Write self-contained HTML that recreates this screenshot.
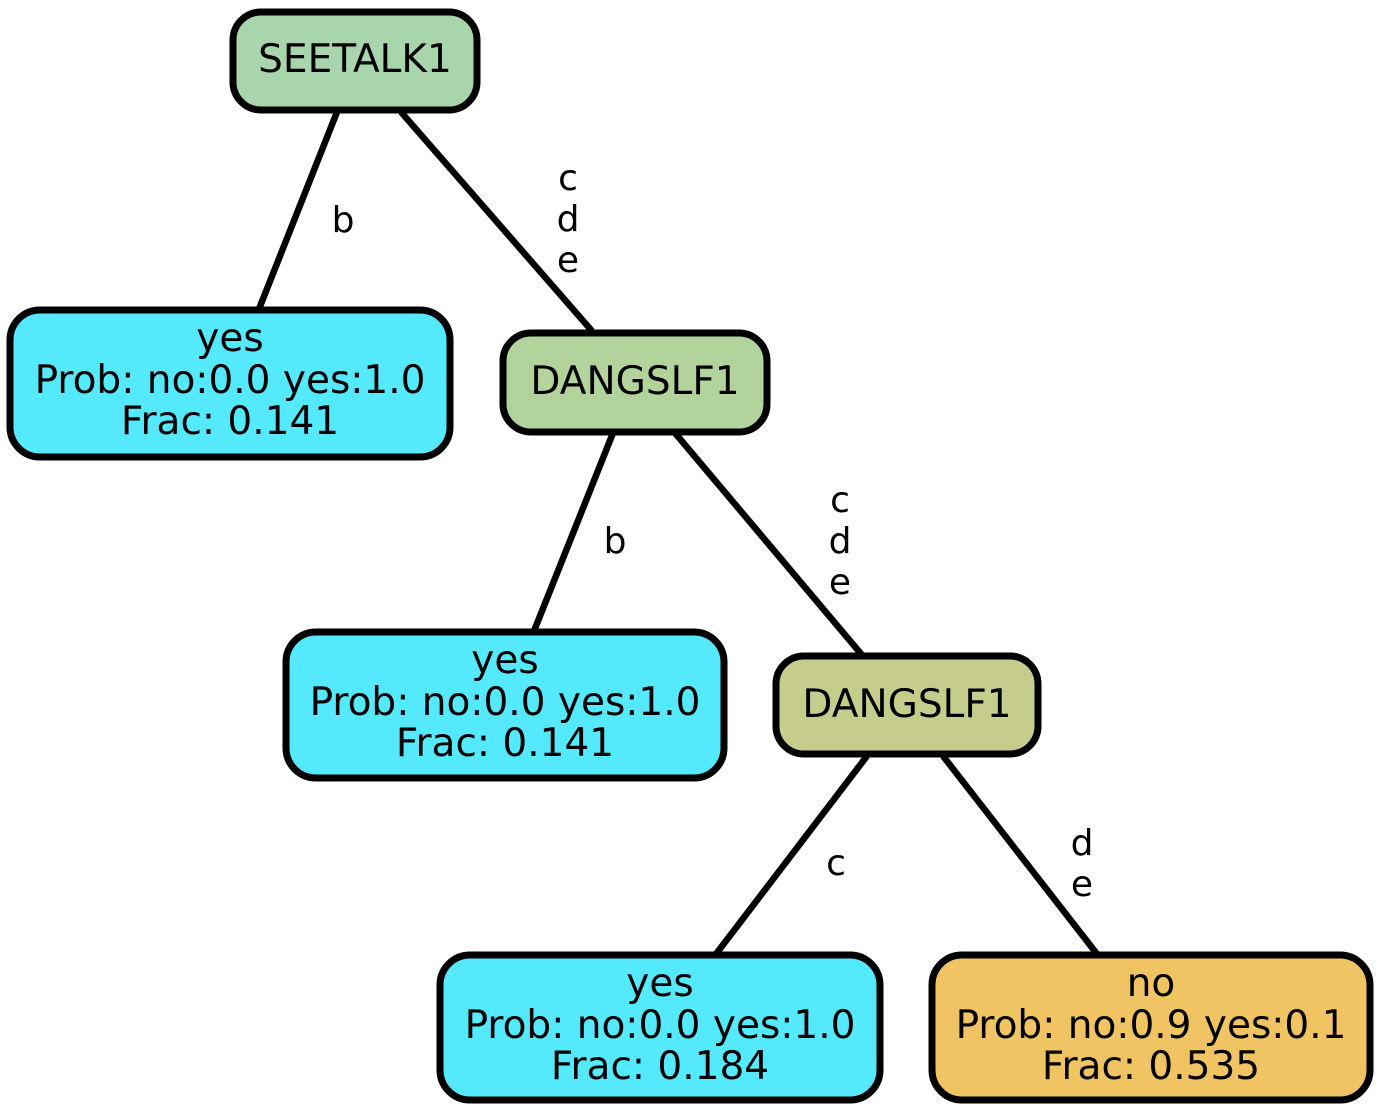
<!DOCTYPE html>
<html><head><meta charset="utf-8"><style>html,body{margin:0;padding:0;background:#fff}</style></head>
<body>
<svg width="1383" height="1114" viewBox="0 0 1383 1114" xmlns="http://www.w3.org/2000/svg" font-family="DejaVu Sans, Liberation Sans, sans-serif" font-size="32">
<g stroke="#000" stroke-width="6.5" fill="none">
<line x1="337" y1="112" x2="259" y2="309"/>
<line x1="401" y1="112" x2="592" y2="331"/>
<line x1="613" y1="433" x2="534" y2="631"/>
<line x1="675" y1="433" x2="862" y2="655"/>
<line x1="867" y1="756" x2="716" y2="954"/>
<line x1="943" y1="756" x2="1097" y2="954"/>
</g>
<g stroke="#000" stroke-width="7">
<rect x="233" y="12" width="244" height="98" rx="28" fill="#a8d5ac"/>
<rect x="10" y="310" width="440" height="147" rx="30" fill="#55e9fd"/>
<rect x="503" y="333" width="264" height="99" rx="28" fill="#b3d39c"/>
<rect x="286" y="632" width="438" height="146" rx="30" fill="#55e9fd"/>
<rect x="776" y="656" width="262" height="98" rx="28" fill="#c6cd8c"/>
<rect x="440" y="955" width="440" height="145" rx="30" fill="#55e9fd"/>
<rect x="932" y="955" width="438" height="145" rx="30" fill="#f0c462"/>
</g>
<g text-anchor="middle" fill="#000" font-size="39">
<text x="355" y="72">SEETALK1</text>
<text x="230" y="351">yes</text><text x="230" y="393">Prob: no:0.0 yes:1.0</text><text x="230" y="434">Frac: 0.141</text>
<text x="635" y="394">DANGSLF1</text>
<text x="505" y="673">yes</text><text x="505" y="715">Prob: no:0.0 yes:1.0</text><text x="505" y="756">Frac: 0.141</text>
<text x="907" y="717">DANGSLF1</text>
<text x="660" y="996">yes</text><text x="660" y="1038">Prob: no:0.0 yes:1.0</text><text x="660" y="1079">Frac: 0.184</text>
<text x="1151" y="996">no</text><text x="1151" y="1038">Prob: no:0.9 yes:0.1</text><text x="1151" y="1079">Frac: 0.535</text>
</g>
<g text-anchor="middle" fill="#000" font-size="36">
<text x="343" y="232">b</text>
<text x="568" y="190">c</text><text x="568" y="231">d</text><text x="568" y="272">e</text>
<text x="615" y="553">b</text>
<text x="840" y="512">c</text><text x="840" y="553">d</text><text x="840" y="594">e</text>
<text x="836" y="875">c</text>
<text x="1082" y="855">d</text><text x="1082" y="896">e</text>
</g>
</svg>
</body></html>
